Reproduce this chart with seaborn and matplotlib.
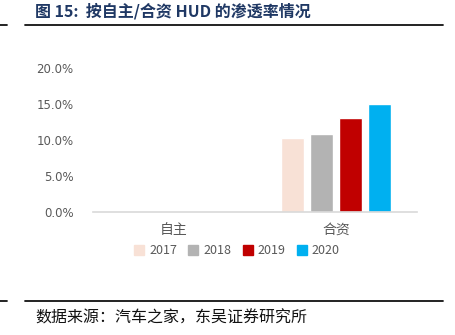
import matplotlib
matplotlib.use("Agg")
import matplotlib.pyplot as plt
import seaborn as sns
import pandas as pd
from matplotlib.lines import Line2D
from matplotlib.ticker import FuncFormatter

categories = ["自主", "合资"]
years = ["2017", "2018", "2019", "2020"]
values_zizhu = [0.0, 0.0, 0.0, 0.0]
values_hezi = [10.3, 10.9, 13.1, 15.0]
colors = ["#F8E1D6", "#B3B3B3", "#C00000", "#00B0F0"]
title_text = "图 15:  按自主/合资 HUD 的渗透率情况"
source_text = "数据来源：汽车之家，东吴证券研究所"

rows = []
for y, a, b in zip(years, values_zizhu, values_hezi):
    rows.append({"cat": categories[0], "year": y, "val": a})
    rows.append({"cat": categories[1], "year": y, "val": b})
df = pd.DataFrame(rows)

sns.set_theme(style="white")
plt.rcParams["font.family"] = ["Noto Sans CJK SC", "DejaVu Sans"]

fig = plt.figure(figsize=(4.55, 3.35), dpi=100)
ax = fig.add_axes([93/455, 1 - 212/335, (417-93)/455, (212-68)/335])

sns.barplot(data=df, x="cat", y="val", hue="year", palette=colors,
            order=categories, hue_order=years, width=0.72, gap=0.21, ax=ax,
            saturation=1, legend=False)

ax.set_ylim(0, 20)
ax.set_yticks([0, 5, 10, 15, 20])
ax.yaxis.set_major_formatter(FuncFormatter(lambda v, p: f"{v:.1f}%"))
ax.set_xlabel("")
ax.set_ylabel("")
for s in ["top", "right", "left"]:
    ax.spines[s].set_visible(False)
ax.spines["bottom"].set_color("#D9D9D9")
ax.spines["bottom"].set_linewidth(1.2)
ax.tick_params(axis="y", colors="#595959", labelsize=8.5, length=0, pad=14)
ax.tick_params(axis="x", colors="#595959", labelsize=10, length=0, pad=8)
for lab in ax.get_yticklabels():
    lab.set_fontfamily(["DejaVu Sans"])

handles = [plt.Rectangle((0, 0), 1, 1, color=c) for c in colors]
leg = fig.legend(handles, years, loc="center", bbox_to_anchor=(237/455, 1 - 251/335),
                 ncol=4, frameon=False, fontsize=9, handlelength=0.8, handleheight=0.8,
                 handletextpad=0.4, columnspacing=0.9)
for t in leg.get_texts():
    t.set_color("#595959")

fig.text(35/455, 1 - 11/335, title_text, fontsize=11.5, fontweight="bold",
         color="#1F3864", va="center", ha="left")
fig.add_artist(Line2D([25/455, 443/455], [1 - 25/335] * 2, color="#111111", lw=1.3))
fig.add_artist(Line2D([0, 7/455], [1 - 25/335] * 2, color="#111111", lw=1.3))
fig.add_artist(Line2D([25/455, 443/455], [1 - 301/335] * 2, color="#111111", lw=1.3))
fig.add_artist(Line2D([0, 7/455], [1 - 301/335] * 2, color="#111111", lw=1.3))
fig.text(35/455, 1 - 318/335, source_text, fontsize=11.5, color="#111111",
         va="center", ha="left")

fig.savefig("out.png", dpi=100)
